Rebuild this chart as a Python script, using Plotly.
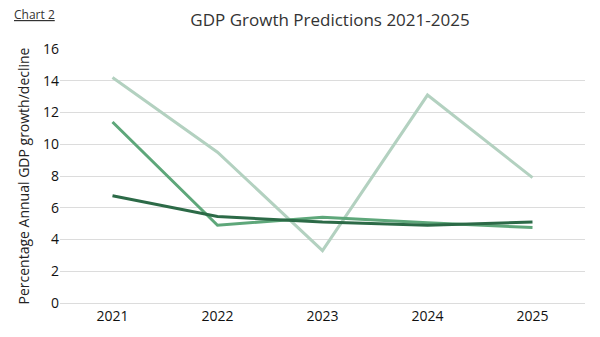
import plotly.graph_objects as go

years = ["2021", "2022", "2023", "2024", "2025"]
series_light = [14.2, 9.5, 3.3, 13.1, 7.9]
series_mid = [11.4, 4.9, 5.4, 5.05, 4.75]
series_dark = [6.75, 5.45, 5.1, 4.9, 5.1]
y_ticks = [0, 2, 4, 6, 8, 10, 12, 14, 16]

fig = go.Figure()
fig.add_trace(go.Scatter(x=years, y=series_light, mode="lines",
                         line=dict(color="#b3d1c0", width=3), name="A"))
fig.add_trace(go.Scatter(x=years, y=series_mid, mode="lines",
                         line=dict(color="#5ea77a", width=3), name="B"))
fig.add_trace(go.Scatter(x=years, y=series_dark, mode="lines",
                         line=dict(color="#2c6a47", width=3), name="C"))

fig.update_layout(
    width=600, height=337,
    margin=dict(l=60, r=15, t=49, b=34),
    paper_bgcolor="white", plot_bgcolor="white",
    showlegend=False,
    font=dict(family="Open Sans, sans-serif", color="#222222"),
    title=dict(text="GDP Growth Predictions 2021-2025", x=0.55, xanchor="center",
               y=0.94, yanchor="middle",
               font=dict(size=17, color="#333333")),
    xaxis=dict(type="category", showgrid=False, showline=True, linecolor="#dcdcdc",
               linewidth=1, ticks="", tickfont=dict(size=14, color="#111111"),
               range=[-0.5, 4.5]),
    yaxis=dict(range=[0, 16], tickvals=y_ticks, showgrid=True, gridcolor="#dcdcdc",
               gridwidth=1, zeroline=False, ticks="",
               tickfont=dict(size=14, color="#111111"),
               title=dict(text="Percentage Annual GDP growth/decline",
                          font=dict(size=14, color="#222222"), standoff=10)),
)
fig.add_annotation(text="<u>Chart 2</u>", xref="paper", yref="paper",
                   x=-0.091, y=1.135, xanchor="left", yanchor="middle",
                   showarrow=False, font=dict(size=12, color="#333333"))
fig.write_html("out.html")
